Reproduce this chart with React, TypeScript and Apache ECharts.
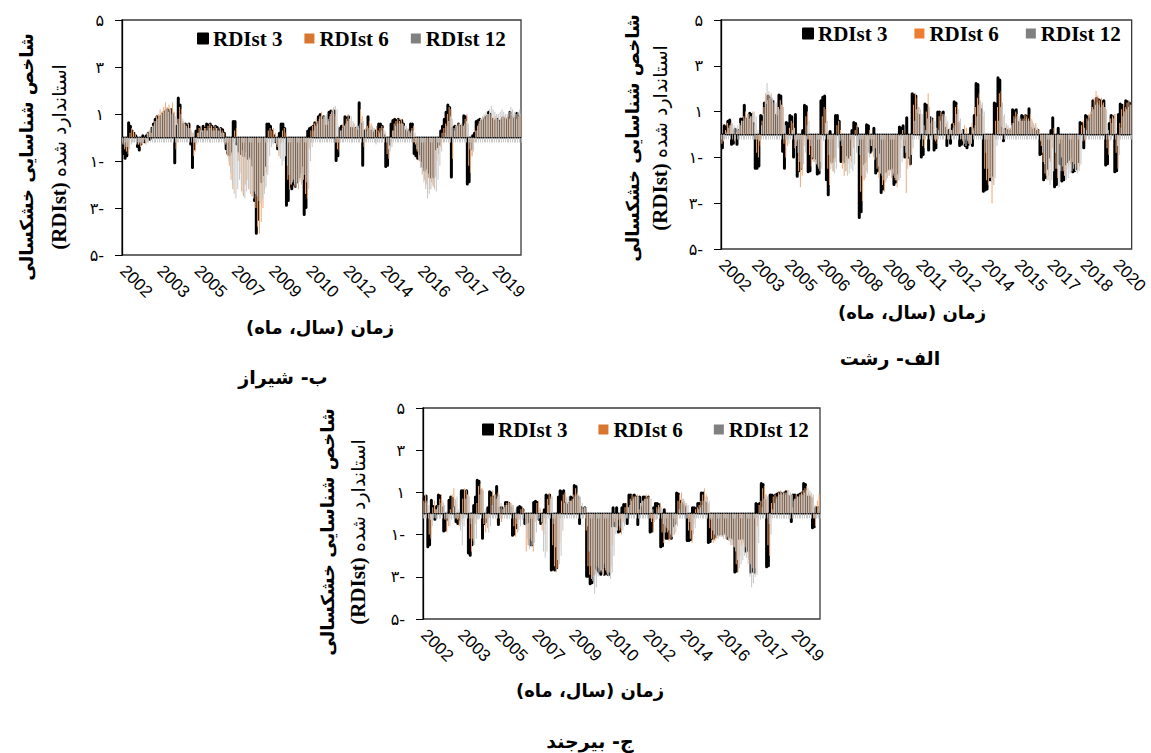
import { useEffect, useRef } from 'react';
import * as echarts from 'echarts';

// ---------- data (monthly, Jan 2002 .. Sep 2020) ----------
const START_YEAR = 2002;
const MONTH_COUNT = 225;
const seriesNames = ['RDIst 3', 'RDIst 6', 'RDIst 12'];

// Shiraz
const shirazR3 = [
  -0.5, -0.7, -0.9, -0.8, 0.65, 0.5, 0.3, 0.2, 0.1, -0.4, -0.55, -0.3,
  0.1, -0.2, 0.1, 0.2, -0.1, 0.4, 0.6, 0.8, 0.9, 0.85, 0.9, 1.0,
  1.1, 1.15, 1.2, 1.1, 1.2, 1.0, -1.1, 0.5, 1.7, 1.4, 0.6, 0.55,
  0.6, 0.5, 0.6, -0.3, -1.3, -0.5, 0.3, 0.5, 0.45, 0.2, 0.5, 0.4,
  0.6, 0.55, 0.6, 0.5, 0.4, 0.5, 0.45, 0.3, 0.4, 0.35, 0.2, -0.5,
  -0.7, -0.75, -0.6, 0.7, 0.7, -0.3, -0.6, -0.7, -0.5, -0.8, -0.6, -0.9,
  -0.8, -0.9, -1.2, -2.7, -4.1, -3.5, -1.8, -1.9, -1.6, -1.2, 0.6, 0.6,
  0.5, 0.3, 0.1, -0.2, -0.5, 0.2, 0.6, 0.6, 0.4, -2.9, -2.7, -2.1,
  -2.2, -2.0, -2.1, -1.9, -1.7, -1.5, -1.2, -3.3, -3.0, 0.3, 0.4, 0.45,
  0.5, 0.65, 0.6, 0.9, 1.0, 0.8, 0.9, 0.5, 0.5, 1.1, 1.15, 1.1,
  1.15, -1.0, -0.8, 0.4, 0.5, 0.4, 0.9, 0.85, 0.9, 0.4, 0.4, 0.35,
  0.4, 0.3, 1.5, 0.6, -1.2, 0.3, 0.3, 0.9, 0.3, 0.3, 0.2, 0.3,
  0.2, 0.6, 0.6, 0.5, 0.1, -1.25, -1.2, -0.3, 0.6, 0.75, 0.8, 0.75,
  0.8, 0.7, 0.75, 0.6, 0.3, 0.2, 0.3, 0.6, 0.6, -0.7, -0.8, -0.9,
  -0.7, -1.0, -1.25, -1.4, -1.3, -1.5, -1.7, -1.6, -1.7, -0.5, -0.4, -0.3,
  0.3, 0.5, 0.8, 1.1, 1.4, 1.3, -1.7, 0.45, 0.5, 0.45, 0.6, 0.5,
  0.45, 0.95, 0.9, -2.0, -1.9, -0.5, 0.1, 0.2, 0.7, 0.75, 0.8, 0.7,
  0.75, 0.85, 0.9, 1.1, 1.0, 0.8, 0.7, 0.75, 0.8, 0.7, 0.75, 0.85,
  0.8, 0.75, 0.85, 1.1, 0.9, 0.8, 0.85, 1.05, 0.9,
];
const shirazR6 = [
  -0.3, -0.5, -0.6, -0.7, 0.2, 0.4, 0.3, 0.2, -0.2, -0.3, -0.4, -0.3,
  -0.1, -0.3, 0.2, 0.3, 0.2, 0.5, 0.7, 0.9, 1.0, 1.2, 1.1, 1.3,
  1.5, 1.3, 1.4, 1.2, 1.5, 1.1, -0.5, 0.8, 1.3, 1.2, 0.7, 0.6,
  0.5, 0.6, 0.4, 0.2, -0.8, -0.6, 0.2, 0.4, 0.5, 0.3, 0.4, 0.3,
  0.5, 0.6, 0.5, 0.4, 0.5, 0.4, 0.3, 0.4, 0.3, 0.2, -0.3, -0.8,
  -1.2, -1.8, -2.2, 0.3, 0.4, -1.0, -1.5, -2.3, -2.5, -2.0, -1.8, -2.2,
  -2.4, -2.5, -2.3, -3.0, -3.8, -4.1, -3.6, -3.0, -2.2, -1.5, 0.3, 0.4,
  0.3, 0.4, 0.2, -0.4, -0.8, -0.3, 0.3, 0.4, 0.2, -1.8, -2.2, -2.0,
  -1.8, -2.1, -1.9, -2.2, -1.8, -2.0, -1.6, -2.4, -2.6, -0.5, 0.3, 0.5,
  0.6, 0.8, 0.7, 0.9, 1.1, 0.9, 0.8, 0.6, 0.7, 1.0, 1.2, 1.0,
  0.9, -0.5, -0.6, 0.3, 0.6, 0.5, 0.8, 1.0, 0.7, 0.5, 0.6, 0.4,
  0.5, 0.4, 1.2, 0.9, -0.4, 0.4, 0.5, 0.7, 0.6, 0.4, 0.3, 0.5,
  0.3, 0.4, 0.5, 0.4, 0.2, -0.7, -0.9, -0.4, 0.3, 0.6, 0.7, 0.8,
  0.7, 0.8, 0.6, 0.5, 0.4, 0.3, 0.2, 0.4, 0.5, -0.3, -0.6, -1.0,
  -1.2, -1.5, -1.8, -2.0, -1.7, -2.2, -1.9, -2.1, -1.6, -1.0, -0.7, -0.4,
  0.2, 0.4, 0.6, 1.0, 1.3, 1.2, -0.9, 0.3, 0.5, 0.6, 0.5, 0.6,
  0.5, 0.8, 1.0, -1.2, -1.5, -0.8, -0.2, 0.3, 0.5, 0.7, 0.8, 0.9,
  0.8, 0.9, 1.0, 1.0, 0.9, 0.8, 0.9, 0.8, 0.7, 0.8, 0.9, 0.9,
  0.8, 0.9, 0.8, 1.0, 1.0, 0.9, 0.8, 0.9, 1.0,
];
const shirazR12 = [
  -0.3, -0.4, -0.4, -0.5, -0.3, -0.2, -0.2, -0.3, -0.3, -0.2, -0.3, -0.2,
  -0.1, 0.2, 0.3, 0.4, 0.5, 0.6, 0.7, 0.8, 0.9, 1.0, 1.1, 1.2,
  1.2, 1.1, 1.2, 1.0, 1.1, 0.9, 0.6, 0.8, 1.0, 0.8, 0.6, 0.5,
  0.4, 0.4, 0.3, 0.2, -0.2, -0.3, 0.2, 0.3, 0.3, 0.3, 0.4, 0.3,
  0.4, 0.4, 0.3, 0.3, 0.4, 0.3, 0.3, 0.2, 0.2, -0.2, -0.6, -1.0,
  -1.5, -2.0, -2.4, -2.6, -2.2, -1.8, -2.0, -2.4, -2.6, -2.3, -2.1, -2.3,
  -2.5, -2.6, -2.4, -2.5, -2.7, -2.8, -2.6, -2.4, -2.1, -1.6, -0.8, -0.4,
  -0.3, -0.2, -0.3, -0.6, -0.9, -1.2, -1.0, -0.8, -1.2, -1.6, -2.0, -1.9,
  -2.0, -2.1, -2.0, -1.9, -2.0, -1.8, -1.6, -1.9, -2.2, -1.0, -0.4, 0.3,
  0.5, 0.6, 0.8, 0.9, 0.8, 0.9, 1.0, 0.8, 0.9, 1.1, 1.3, 1.35,
  1.2, 0.5, 0.3, 0.4, 0.5, 0.6, 0.7, 0.8, 0.9, 0.7, 0.6, 0.5,
  0.5, 0.6, 0.8, 0.7, 0.4, 0.3, 0.4, 0.5, 0.5, 0.4, -0.3, -0.2,
  0.2, 0.3, 0.4, 0.3, -0.2, -0.5, -0.6, -0.4, 0.3, 0.5, 0.6, 0.6,
  0.6, 0.6, 0.5, 0.5, 0.4, 0.3, 0.3, 0.3, 0.2, -0.5, -0.9, -1.3,
  -1.6, -1.9, -2.2, -2.6, -2.4, -2.2, -2.0, -2.2, -2.3, -1.8, -1.2, -0.6,
  -0.2, 0.2, 0.5, 0.7, 0.9, 0.8, 0.4, 0.5, 0.5, 0.6, 0.6, 0.5,
  0.6, 0.7, 0.6, -0.5, -0.8, -0.6, -0.2, 0.3, 0.6, 0.8, 0.9, 1.0,
  1.1, 1.0, 1.2, 1.35, 1.2, 1.1, 1.0, 1.0, 1.1, 1.2, 1.1, 1.0,
  1.0, 1.1, 1.3, 1.2, 1.1, 1.0, 1.1, 1.2, 1.1,
];

// Rasht
const rashtR3 = [
  -0.7, -0.6, 0.4, 0.35, 0.6, 0.65, -0.45, -0.4, 0.25, -0.45, 0.2, 0.7,
  0.7, 1.3, 0.7, 0.6, 0.95, 0.9, 0.5, -1.5, -1.5, -1.4, 0.85, 0.8,
  1.4, 1.3, 1.7, 1.6, 1.5, 1.45, 0.85, 0.8, 1.75, 1.7, -0.75, -1.5,
  0.55, 0.5, 0.85, 0.8, -1.0, 0.9, -1.85, -1.6, -1.5, 0.2, 1.3, 1.25,
  -1.65, -1.6, -1.05, -1.0, -1.05, -1.75, -1.7, 1.5, 1.65, 1.7, -2.0, -2.65,
  0.15, -1.2, -1.0, 0.85, 0.85, 0.6, -1.2, -1.1, -1.2, -0.9, -1.0, -0.9,
  0.2, 0.55, 0.5, 0.3, -3.65, -3.4, -1.3, -1.2, 0.45, 0.4, -0.8, -0.7,
  0.3, -1.7, -1.6, -0.8, -2.55, -2.4, -1.65, -1.6, -1.5, -1.5, -1.45, -2.2,
  -2.1, -1.7, 0.35, 0.3, 0.4, -1.0, 0.75, -1.0, -1.3, 1.8, 1.75, 1.7,
  0.9, 0.85, -1.0, -0.9, 1.35, 1.3, -0.7, 0.75, 0.7, -0.7, -0.6, 1.0,
  1.0, 0.95, 1.0, 0.3, -0.5, 0.2, -0.4, 0.45, 1.45, 1.4, 0.5, -0.5,
  -0.45, 0.2, -0.5, -0.6, -0.45, 0.3, -0.5, 0.85, 2.25, 2.2, 0.85, 1.1,
  -2.5, -2.45, -2.4, -2.0, -2.0, -1.8, 1.4, 1.35, 2.5, 2.4, 0.3, -0.3,
  0.25, 0.2, 0.15, 0.2, 1.1, 1.05, 1.1, 0.55, 0.5, 0.85, 0.8, 0.85,
  0.8, 1.15, 0.3, 0.2, 0.25, 0.15, 0.2, -0.9, -0.85, -2.0, -1.9, -1.5,
  -1.0, 0.2, 0.75, -2.3, -2.2, 0.3, -1.3, -2.05, -2.0, -1.3, -1.2, -1.1,
  -1.0, -1.65, -1.6, -1.5, -1.2, 0.55, 0.5, -0.6, 0.85, 0.8, 0.7, 0.85,
  1.5, 1.4, 1.6, 1.55, 1.5, 1.45, 1.5, -1.35, -1.3, 0.5, 0.85, 0.8,
  -1.65, -1.6, 0.9, 1.35, 1.3, 1.2, 1.5, 1.45, 1.4,
];
const rashtR6 = [
  -0.4, -0.3, 0.2, 0.5, 0.4, 0.5, 0.2, -0.3, 0.1, 0.2, 0.4, 0.6,
  0.8, 1.0, 0.9, 0.7, 0.8, 1.0, 0.4, -0.8, -1.0, -0.5, 0.6, 1.2,
  1.8, 1.5, 1.6, 1.8, 1.4, 1.3, 1.0, 1.2, 1.5, 1.3, -0.4, -1.0,
  -0.5, 0.3, 0.6, 0.5, -0.6, -0.3, -1.6, -2.3, -1.8, -0.5, 0.8, 1.0,
  -0.9, -1.4, -1.2, -1.1, -1.3, -1.5, -1.2, 0.8, 1.2, 1.1, -1.5, -2.2,
  -1.3, -1.6, -1.2, 0.4, 0.6, 0.2, -1.5, -1.8, -1.6, -1.3, -1.1, -1.2,
  -0.6, 0.2, 0.4, -0.5, -2.5, -2.9, -2.0, -1.6, -0.3, 0.2, -0.5, -1.0,
  -0.6, -1.5, -1.9, -1.7, -2.2, -2.5, -2.0, -1.8, -1.6, -1.9, -1.7, -2.0,
  -2.3, -2.0, -0.6, 0.2, -0.5, -2.55, -1.0, -1.4, -0.9, 1.3, 1.8, 1.6,
  1.2, 0.9, -0.5, -0.6, 1.0, 1.8, 0.5, 0.6, 0.7, -0.3, -0.4, 0.8,
  1.0, 0.9, 0.8, 0.5, -0.2, 0.3, 0.2, 0.5, 1.2, 1.3, 0.6, -0.2,
  -0.3, 0.4, 0.3, -0.4, -0.3, 0.5, 0.3, 1.2, 1.6, 1.8, 1.3, 0.8,
  -1.5, -2.0, -2.2, -1.9, -3.0, -2.2, 0.6, 1.2, 1.8, 1.9, 0.8, 0.2,
  0.4, 0.3, 0.3, 0.5, 0.8, 1.0, 0.9, 0.7, 0.6, 0.7, 0.9, 0.8,
  0.7, 0.9, 0.6, 0.4, 0.5, 0.3, 0.2, -0.5, -1.2, -1.7, -2.0, -1.8,
  -1.2, -0.6, 0.3, -1.5, -1.9, -0.4, -1.0, -1.6, -1.8, -1.5, -1.4, -1.3,
  -1.2, -1.3, -1.5, -1.6, -1.4, 0.4, 0.6, -0.3, 0.7, 0.9, 1.0, 1.2,
  1.6, 1.9, 1.7, 1.5, 1.6, 1.4, 1.2, -0.6, -0.9, 0.7, 0.8, 0.9,
  -0.8, -1.5, 0.5, 1.1, 1.3, 1.2, 1.4, 1.5, 1.3,
];
const rashtR12 = [
  -0.3, -0.2, 0.1, 0.3, 0.4, 0.5, 0.4, 0.3, 0.4, 0.5, 0.6, 0.6,
  0.7, 0.8, 0.9, 0.8, 0.9, 1.0, 0.8, 0.2, -0.3, 0.4, 0.9, 1.5,
  2.25, 1.9, 1.7, 1.6, 1.5, 1.4, 1.2, 1.1, 1.3, 1.2, 0.4, -0.3,
  -0.4, -0.2, 0.2, 0.3, -0.5, -0.8, -1.2, -1.5, -1.3, -0.8, 0.4, 0.6,
  -0.5, -1.0, -1.2, -1.3, -1.4, -1.6, -1.5, -0.3, 0.5, 0.6, -0.9, -1.5,
  -1.6, -1.7, -1.5, -0.6, -0.3, -0.5, -1.3, -1.6, -1.8, -1.7, -1.5, -1.6,
  -1.3, -0.8, -0.5, -0.9, -1.8, -2.0, -1.9, -1.7, -1.0, -0.5, -0.8, -1.1,
  -1.0, -1.4, -1.7, -1.8, -2.0, -2.1, -1.9, -1.8, -1.7, -1.8, -1.9, -2.0,
  -2.0, -1.9, -1.2, -0.5, -0.8, -1.5, -1.0, -0.9, -0.6, 0.6, 1.1, 1.2,
  1.1, 0.9, 0.4, 0.2, 0.7, 1.2, 0.8, 0.7, 0.6, 0.3, 0.2, 0.6,
  0.8, 0.9, 0.8, 0.6, 0.3, 0.2, 0.3, 0.4, 0.9, 1.1, 0.7, 0.2,
  -0.4, -0.5, -0.3, -0.5, -0.4, 0.2, 0.4, 0.8, 1.3, 1.5, 1.4, 1.0,
  -0.8, -1.5, -1.9, -2.1, -2.2, -1.9, -0.5, 0.6, 1.2, 1.4, 0.9, 0.5,
  0.4, 0.3, 0.4, 0.5, 0.7, 0.8, 0.8, 0.7, 0.6, 0.6, 0.7, 0.6,
  0.6, 0.7, 0.5, 0.4, 0.3, 0.2, -0.3, -0.8, -1.3, -1.8, -2.0, -2.2,
  -2.0, -1.6, -0.8, -1.5, -2.3, -1.6, -1.4, -1.8, -2.0, -1.9, -1.7, -1.6,
  -1.5, -1.6, -1.7, -1.6, -1.3, -0.3, 0.3, 0.2, 0.6, 0.8, 1.0, 1.1,
  1.3, 1.4, 1.3, 1.2, 1.3, 1.2, 1.1, 0.2, -0.3, 0.5, 0.7, 0.9,
  -0.5, -0.9, 0.3, 0.8, 1.0, 1.1, 1.2, 1.3, 1.2,
];

// Birjand
const birjandR3 = [
  0.85, 0.8, 0.85, -1.6, -1.5, 0.65, 0.35, -0.3, 0.35, 0.9, 0.85, 0.3,
  -0.85, -0.8, -0.3, 0.65, 0.8, 0.75, 0.3, -0.4, -0.5, -0.3, 1.1, 1.1,
  1.05, 1.1, -1.9, -2.0, -1.5, 0.4, 0.8, 1.6, 1.55, 1.1, -1.2, -0.5,
  -0.4, 0.3, 1.05, 1.0, 0.8, 0.75, 1.3, -0.55, 0.3, 0.3, 0.2, 0.55,
  0.55, 0.5, 0.3, -1.05, -1.0, -0.7, 0.3, 0.35, 0.3, 0.2, -0.5, -0.45,
  -0.4, -1.5, -1.5, 0.55, 0.6, 0.55, -0.3, -0.5, -0.4, 0.2, 0.9, 0.85,
  0.9, -2.7, -2.65, -2.7, -2.6, 0.8, 1.1, 1.05, 1.1, 0.5, 0.4, 0.5,
  0.8, 0.75, 1.35, 1.3, 0.8, -0.5, 0.3, 0.25, 0.3, -3.0, -3.0, -3.35,
  -3.3, -2.9, -2.6, -2.7, -2.8, -2.9, -2.6, -2.9, -2.85, -2.9, -2.9, -0.6,
  0.3, -0.6, 0.3, -0.9, -0.85, 0.3, 0.45, 0.45, -0.5, 0.9, 0.9, 0.85,
  0.9, 0.8, -0.55, 0.8, 0.3, 0.8, 0.8, 0.75, 0.8, -0.9, -0.85, 0.3,
  0.5, 0.5, 0.45, -1.6, -1.55, 0.2, -1.2, -1.2, -1.15, -1.2, -0.6, -0.5,
  1.0, 0.95, 0.6, 0.5, 0.4, 0.3, -1.3, -1.3, -1.25, 0.3, 0.3, 0.25,
  0.5, 0.5, 1.0, 1.0, 0.55, 0.5, -1.4, -1.35, -1.2, -1.2, -1.1, -1.0,
  -1.0, -0.95, -1.0, -0.9, -1.0, -1.2, -1.1, -1.15, -1.2, -2.8, -2.75, -1.2,
  -1.2, -1.15, -1.2, -1.8, -1.75, -1.8, -2.8, -2.75, -2.8, 0.5, 0.45, 0.5,
  1.45, 1.4, 0.65, -2.55, -2.5, 0.9, 0.9, 0.85, 0.9, 0.95, 1.0, 1.0,
  0.95, 1.0, 1.05, 0.85, 0.8, -0.4, 0.9, 0.9, 0.85, 0.9, 0.95, 1.0,
  1.45, 1.4, 0.8, 0.8, 0.75, -0.7, -0.65, 0.3, 0.3,
];
const birjandR6 = [
  0.6, 0.9, 0.5, -1.0, -1.2, 0.3, 0.6, 0.2, 0.4, 0.7, 0.9, 0.5,
  -0.3, -0.9, -0.6, 0.2, 0.9, 1.2, 0.6, -0.3, -0.6, -0.5, 0.7, 1.2,
  1.1, 0.9, -1.2, -1.8, -1.3, -0.5, 0.5, 1.3, 1.4, 1.2, -0.5, -0.9,
  -0.7, -0.2, 0.8, 1.1, 0.9, 0.7, 1.0, 0.2, -0.4, 0.3, 0.4, 0.5,
  0.6, 0.5, 0.4, -0.6, -1.1, -0.9, -0.3, 0.2, 0.3, 0.1, -1.8, -1.5,
  -1.2, -1.3, -1.8, -0.4, 0.5, 0.6, 0.2, -0.8, -1.0, -0.5, 0.7, 1.0,
  0.8, -1.5, -2.5, -2.8, -2.6, -1.4, 0.6, 0.9, 1.0, 0.7, 0.5, 0.6,
  0.7, 0.9, 1.2, 1.0, 0.7, 0.3, 0.2, 0.3, -0.8, -2.5, -2.9, -3.1,
  -3.0, -2.8, -2.5, -2.6, -2.7, -2.8, -2.4, -2.7, -2.9, -2.8, -2.5, -1.5,
  -0.4, -0.7, -0.3, -0.8, -1.0, -0.4, 0.3, 0.5, 0.3, 0.7, 0.9, 0.8,
  0.8, 0.9, 0.2, 0.5, 0.6, 0.7, 0.9, 0.8, 0.7, -0.4, -0.9, -0.3,
  0.3, 0.4, 0.5, -0.9, -1.4, -0.6, -0.9, -1.3, -1.2, -1.1, -1.0, -0.4,
  0.6, 0.9, 1.0, 0.7, 0.5, 0.4, -0.8, -1.2, -1.4, -0.5, 0.2, 0.3,
  0.4, 0.6, 0.9, 1.2, 0.9, 0.5, -0.7, -1.2, -1.4, -1.3, -1.2, -1.1,
  -1.0, -1.1, -1.0, -1.2, -1.1, -1.3, -1.5, -1.3, -1.6, -2.4, -2.8, -2.0,
  -1.5, -1.4, -1.6, -1.9, -2.2, -2.4, -2.6, -2.8, -2.6, -0.6, 0.4, 0.6,
  1.2, 1.3, 0.9, -1.5, -2.0, 0.5, 0.8, 0.9, 0.8, 1.0, 1.1, 0.9,
  1.0, 0.9, 1.1, 0.9, 0.8, 0.3, 0.7, 0.9, 0.8, 0.9, 1.0, 1.1,
  1.2, 1.3, 1.0, 0.9, 0.8, -0.2, -0.6, 0.6, 0.9,
];
const birjandR12 = [
  0.5, 0.6, 0.4, -0.3, -0.6, -0.2, 0.2, 0.3, 0.4, 0.5, 0.6, 0.4,
  0.1, -0.4, -0.6, -0.3, 0.3, 0.7, 0.8, 0.2, -0.8, -1.5, -0.6, 0.7,
  0.9, 0.8, -0.5, -1.2, -1.5, -1.2, -0.3, 0.9, 1.2, 1.1, 0.2, -0.6,
  -0.9, -0.6, 0.4, 0.8, 0.9, 0.8, 0.9, 0.5, 0.2, 0.3, 0.4, 0.4,
  0.5, 0.5, 0.4, 0.2, -0.5, -0.8, -0.6, -0.3, 0.2, -0.6, -1.2, -1.7,
  -1.6, -1.5, -1.4, -0.9, -0.3, 0.3, -0.4, -1.8, -2.1, -1.8, 0.4, 0.7,
  0.8, -0.5, -1.6, -2.2, -2.4, -2.0, -0.8, 0.5, 0.8, 0.8, 0.6, 0.6,
  0.7, 0.8, 0.9, 0.9, 0.8, 0.5, 0.3, 0.3, -0.6, -1.8, -2.5, -3.2,
  -3.8, -3.5, -3.0, -2.8, -2.7, -2.9, -2.6, -2.8, -3.0, -3.1, -2.8, -2.0,
  -1.0, -0.8, -0.6, -0.7, -0.8, -0.6, -0.2, 0.3, 0.4, 0.6, 0.7, 0.8,
  0.8, 0.8, 0.5, 0.6, 0.6, 0.7, 0.7, 0.8, 0.7, 0.2, -0.4, -0.3,
  0.2, 0.3, 0.3, -0.5, -0.9, -0.7, -0.8, -1.0, -1.1, -1.0, -0.9, -0.6,
  0.2, 0.5, 0.7, 0.6, 0.5, 0.4, -0.4, -0.8, -1.0, -0.7, -0.2, 0.2,
  0.3, 0.4, 0.6, 0.8, 0.8, 0.6, -0.3, -0.8, -1.0, -1.1, -1.2, -1.1,
  -1.1, -1.2, -1.1, -1.2, -1.3, -1.4, -1.5, -1.6, -1.8, -2.2, -2.6, -2.4,
  -2.2, -2.0, -2.1, -2.4, -3.0, -3.5, -3.3, -3.0, -2.9, -1.4, -0.3, 0.3,
  0.7, 0.9, 0.8, -0.5, -1.0, 0.2, 0.5, 0.7, 0.8, 0.9, 1.0, 1.0,
  1.0, 1.0, 1.1, 1.0, 0.9, 0.6, 0.7, 0.8, 0.8, 0.9, 0.9, 1.0,
  1.1, 1.2, 1.1, 1.0, 0.9, 0.4, -0.2, 0.3, 0.6,
];

// y tick values -5..5 step 2 shown with Persian digits, minus sign trailing
const FA_DIGITS = '۰۱۲۳۴۵۶۷۸۹';
const faTick = (v: number) => {
  const s = String(Math.abs(v)).replace(/[0-9]/g, (d) => FA_DIGITS[+d]);
  return v < 0 ? s + '-' : s;
};

const months = Array.from({ length: MONTH_COUNT }, (_, i) =>
  `${START_YEAR + Math.floor(i / 12)}-${String((i % 12) + 1).padStart(2, '0')}`);

const RLM = '\u200F';
const rtl = (s: string) => RLM + s + RLM;

const Y_NAME_1 = 'شاخص شناسایی خشکسالی';
const Y_NAME_2 = 'استاندارد شده';
const X_NAME = 'زمان (سال، ماه)';

const panels = [
  {
    title: 'ب- شیراز',
    data: [shirazR3, shirazR6, shirazR12],
    orange: '#d8762f',
    grid: { left: 122, top: 20, width: 399, height: 235 },
    labelInterval: 20,
    legend: { left: 197, top: 28, gap: 22 },
    yName: { x1: 26, x2: 59, y: 157 },
    xName: { x: 320, y: 327 },
    titlePos: { x: 283, y: 377 },
  },
  {
    title: 'الف- رشت',
    data: [rashtR3, rashtR6, rashtR12],
    orange: '#ed7d31',
    grid: { left: 721, top: 20, width: 417, height: 229 },
    labelInterval: 17,
    legend: { left: 802, top: 23, gap: 27 },
    yName: { x1: 632, x2: 660, y: 138 },
    xName: { x: 912, y: 312 },
    titlePos: { x: 890, y: 358 },
  },
  {
    title: 'ج- بیرجند',
    data: [birjandR3, birjandR6, birjandR12],
    orange: '#d8762f',
    grid: { left: 423, top: 408, width: 397, height: 211 },
    labelInterval: 20,
    legend: { left: 482, top: 419, gap: 31 },
    yName: { x1: 327, x2: 358, y: 532 },
    xName: { x: 590, y: 690 },
    titlePos: { x: 590, y: 741 },
  },
];

const GRAY = '#808080';
// thin bars look paler than their legend swatches
const BAR_ORANGE = '#f0a874';
const BAR_GRAY = '#c6c6c6';

export default function App() {
  const ref = useRef<HTMLDivElement>(null);
  useEffect(() => {
    if (!ref.current) return;
    const chart = echarts.init(ref.current, undefined, { renderer: 'svg' });

    const xAxis: any[] = [];
    panels.forEach((p, k) => {
      xAxis.push({
        type: 'category', gridIndex: k, data: months, position: 'bottom',
        axisLine: { show: false, onZero: false }, axisTick: { show: false },
        axisLabel: {
          interval: p.labelInterval, rotate: -45, formatter: (v: string) => v.slice(0, 4),
          fontFamily: 'Liberation Sans, Arial, sans-serif', fontSize: 17, color: '#000', margin: 13,
        },
        splitLine: { show: false },
      });
      xAxis.push({
        type: 'category', gridIndex: k, data: months, position: 'top', z: 5,
        axisLine: { show: true, onZero: true, lineStyle: { color: '#111', width: 1 } },
        axisTick: { show: true, interval: 0, inside: true, length: 5, lineStyle: { color: '#bdbdbd', width: 0.8 } },
        axisLabel: { show: false }, splitLine: { show: false },
      });
    });

    const series: any[] = [];
    panels.forEach((p, k) => {
      p.data.forEach((d, s) => {
        series.push({
          name: seriesNames[s], type: 'bar', xAxisIndex: 2 * k, yAxisIndex: k, data: d,
          barGap: '35%', barCategoryGap: '20%', silent: true,
          itemStyle: s === 0
            ? { color: '#000', borderColor: '#000', borderWidth: 3, borderJoin: 'round' }
            : { color: s === 1 ? BAR_ORANGE : BAR_GRAY },
        });
      });
    });

    const graphic: any[] = [];
    panels.forEach((p) => {
      graphic.push({
        type: 'text', x: p.yName.x1, y: p.yName.y, rotation: Math.PI / 2,
        style: { text: rtl(Y_NAME_1), fontFamily: 'DejaVu Sans', fontWeight: 'bold', fontSize: 18, fill: '#000', align: 'center', verticalAlign: 'middle' },
      });
      graphic.push({
        type: 'text', x: p.yName.x2, y: p.yName.y, rotation: Math.PI / 2,
        style: {
          text: '{b|(RDIst)} {a|' + Y_NAME_2 + '}',
          rich: {
            a: { fontFamily: 'DejaVu Sans', fontSize: 19, fill: '#000' },
            b: { fontFamily: 'Liberation Serif', fontWeight: 'bold', fontSize: 21, fill: '#000' },
          },
          fontSize: 19, fill: '#000', align: 'center', verticalAlign: 'middle',
        },
      });
      graphic.push({
        type: 'text', x: p.xName.x, y: p.xName.y,
        style: { text: rtl(X_NAME), fontFamily: 'DejaVu Sans', fontWeight: 'bold', fontSize: 18, fill: '#000', align: 'center', verticalAlign: 'middle' },
      });
      graphic.push({
        type: 'text', x: p.titlePos.x, y: p.titlePos.y,
        style: { text: rtl(p.title), fontFamily: 'DejaVu Sans', fontWeight: 'bold', fontSize: 19, fill: '#000', align: 'center', verticalAlign: 'middle' },
      });
    });

    chart.setOption({
      animation: false,
      grid: panels.map((p) => ({ ...p.grid, show: true, borderColor: '#3a3a3a', borderWidth: 1.3, containLabel: false })),
      xAxis,
      yAxis: panels.map((p, k) => ({
        type: 'value', gridIndex: k, min: -5, max: 5, interval: 2,
        axisLine: { show: true, onZero: false, lineStyle: { color: '#000', width: 1.3 } },
        axisTick: { show: true, length: 7, lineStyle: { color: '#000' } },
        axisLabel: { formatter: faTick, fontFamily: 'DejaVu Sans', fontSize: 16, color: '#000', margin: 18 },
        splitLine: { show: false },
      })),
      legend: panels.map((p) => ({
        left: p.legend.left, top: p.legend.top, selectedMode: false, icon: 'rect',
        itemWidth: 10, itemHeight: 10, itemGap: p.legend.gap, padding: 0,
        textStyle: { fontFamily: 'Liberation Serif, Times New Roman, serif', fontWeight: 'bold', fontSize: 21, color: '#000' },
        data: [
          { name: seriesNames[0], itemStyle: { color: '#000', borderColor: '#000', borderWidth: 2 } },
          { name: seriesNames[1], itemStyle: { color: p.orange, borderWidth: 0 } },
          { name: seriesNames[2], itemStyle: { color: GRAY, borderWidth: 0 } },
        ],
      })),
      series,
      graphic,
    });
    return () => chart.dispose();
  }, []);
  return <div ref={ref} style={{ position: 'absolute', left: 0, top: 0, width: 1151, height: 753 }} />;
}
